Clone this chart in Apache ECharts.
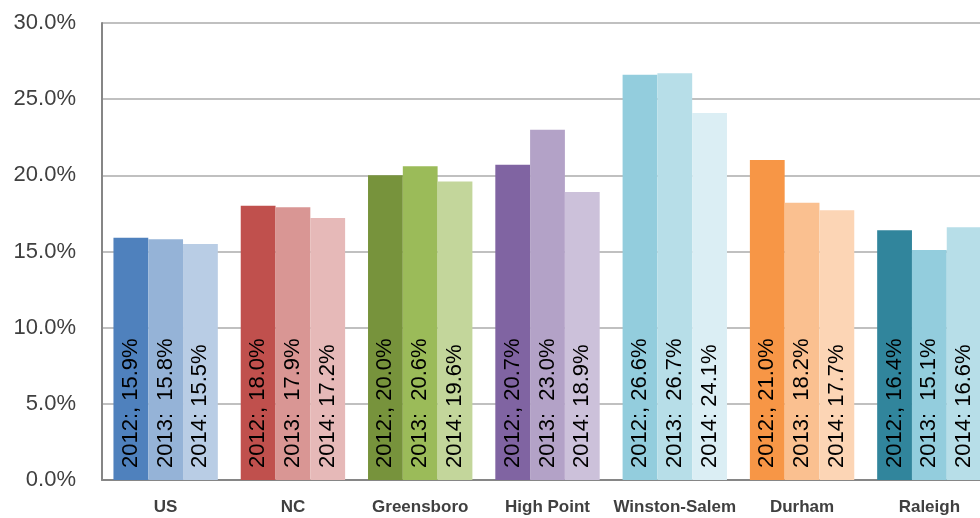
<!DOCTYPE html>
<html>
<head>
<meta charset="utf-8">
<script src="https://cdn.jsdelivr.net/npm/echarts@6/dist/echarts.min.js"></script>
<style>
html,body{margin:0;padding:0;background:#fff;overflow:hidden;width:980px;height:518px;}
#chart{width:1010px;height:518px;}
</style>
</head>
<body>
<div id="chart"></div>
<script>
const categories = ['US', 'NC', 'Greensboro', 'High Point', 'Winston-Salem', 'Durham', 'Raleigh'];
const years = ['2012', '2013', '2014'];
const values2012 = [15.9, 18.0, 20.0, 20.7, 26.6, 21.0, 16.4];
const values2013 = [15.8, 17.9, 20.6, 23.0, 26.7, 18.2, 15.1];
const values2014 = [15.5, 17.2, 19.6, 18.9, 24.1, 17.7, 16.6];
const labelPrefixes = ['2012:, ', '2013:  ', '2014: '];
const yTicks = [0, 5, 10, 15, 20, 25, 30];

const colors2012 = ['#4F81BD', '#C0504D', '#77933C', '#8064A2', '#93CDDD', '#F79646', '#31859C'];
const colors2013 = ['#95B3D7', '#D99694', '#9BBB59', '#B3A2C7', '#B7DEE8', '#FAC090', '#93CDDD'];
const colors2014 = ['#B9CDE5', '#E6B9B8', '#C3D69B', '#CCC1DA', '#DBEEF4', '#FCD5B5', '#B7DEE8'];

const allValues = [values2012, values2013, values2014];
const allColors = [colors2012, colors2013, colors2014];

const chart = echarts.init(document.getElementById('chart'), null, {renderer: 'canvas'});

const series = years.map((y, si) => ({
  name: y,
  type: 'bar',
  barGap: '0%',
  barCategoryGap: '18%',
  data: allValues[si].map((v, i) => ({
    value: v,
    itemStyle: {color: allColors[si][i]}
  })),
  label: {
    show: true,
    position: 'insideBottom',
    rotate: 90,
    align: 'left',
    verticalAlign: 'middle',
    distance: 12,
    color: '#000',
    fontFamily: "'Liberation Sans', Arial, sans-serif",
    fontSize: 22,
    formatter: p => labelPrefixes[si] + p.value.toFixed(1) + '%'
  },
  emphasis: {disabled: true}
}));

chart.setOption({
  animation: false,
  grid: {left: 102, top: 23, width: 891, bottom: 38, containLabel: false},
  xAxis: {
    type: 'category',
    data: categories,
    axisLine: {show: true, lineStyle: {color: '#868686', width: 2}},
    axisTick: {show: false},
    axisLabel: {
      color: '#404040',
      fontFamily: "'Liberation Sans', Arial, sans-serif",
      fontWeight: 'bold',
      fontSize: 17,
      margin: 19,
      interval: 0
    }
  },
  yAxis: {
    type: 'value',
    min: yTicks[0],
    max: yTicks[yTicks.length - 1],
    interval: 5,
    axisLine: {show: true, lineStyle: {color: '#868686', width: 2}},
    axisTick: {show: false},
    splitLine: {show: true, lineStyle: {color: '#C0C0C0', width: 2}},
    axisLabel: {
      color: '#404040',
      fontFamily: "'Liberation Sans', Arial, sans-serif",
      fontSize: 22,
      margin: 26,
      formatter: v => v.toFixed(1) + '%'
    }
  },
  series: series
});
</script>
</body>
</html>
